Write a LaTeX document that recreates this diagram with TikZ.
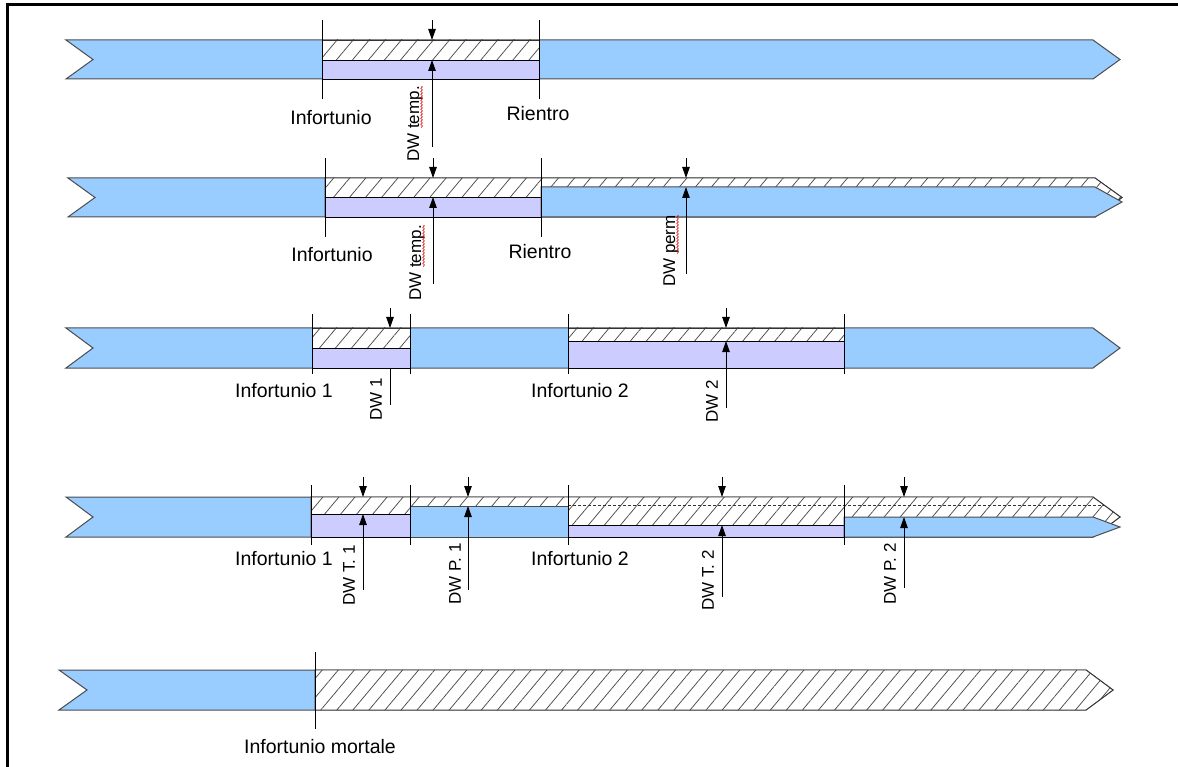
\documentclass[tikz,border=0pt]{standalone}
\usepackage{fontspec}
\setmainfont{Liberation Sans}
\usetikzlibrary{arrows.meta,patterns.meta,decorations.pathmorphing}

\definecolor{barblue}{HTML}{99CCFF}
\definecolor{barlilac}{HTML}{CCCCFF}
\definecolor{hatchgray}{gray}{0.3}

\tikzset{
  bar/.style={fill=barblue, draw=black!70, line width=1pt, line join=miter},
  hatch/.style={preaction={fill=white}, pattern={Lines[angle=50,distance=12.3pt,line width=0.75pt]},
    pattern color=hatchgray, draw=black!80, line width=0.9pt},
  lilac/.style={fill=barlilac, draw=black, line width=0.9pt},
  tick/.style={draw=black, line width=0.9pt},
  dwarrow/.style={draw=black, line width=0.9pt, -{Triangle[length=11pt,width=7.5pt]}},
  lbl/.style={font=\fontsize{19.5}{22}\selectfont, inner sep=0pt},
  vlbl/.style={font=\fontsize{17}{20}\selectfont, inner sep=0pt, rotate=90, anchor=east},
  squig/.style={draw=red!85!black, line width=0.5pt, decorate,
    decoration={snake, amplitude=0.9pt, segment length=3pt}},
  dashlevel/.style={draw=black!80, line width=0.7pt, dash pattern=on 3pt off 2pt},
}

% time bar with notched tail: style, x start, x notch, x end, x tip, y top, y bottom
\newcommand\timebar[7]{%
  \path[#1] (#2,#6) -- (#4,#6) -- (#5,{(#6+#7)/2}) -- (#4,#7) -- (#2,#7) -- (#3,{(#6+#7)/2}) -- cycle;}
% bar piece with a flat start: style, x start, x end, x tip, y top, y bottom
\newcommand\tailbar[6]{%
  \path[#1] (#2,#5) -- (#3,#5) -- (#4,{(#5+#6)/2}) -- (#3,#6) -- (#2,#6) -- cycle;}
% event mark: name, x, y top, y bottom
\newcommand\tickmark[4]{%
  \coordinate (#1-u) at (#2,#3); \coordinate (#1-d) at (#2,#4);
  \draw[tick] (#1-u) -- (#1-d);}
% damage arrows: name, x, y start above, y bar top, y level, y start below
\newcommand\dwmark[6]{%
  \coordinate (#1-t) at (#2,#3); \coordinate (#1-a) at (#2,#4);
  \coordinate (#1-b) at (#2,#5); \coordinate (#1-e) at (#2,#6);
  \draw[dwarrow] (#1-t) -- (#1-a);
  \draw[dwarrow] (#1-e) -- (#1-b);}

\begin{document}
\begin{tikzpicture}[x=1pt,y=-1pt]
\useasboundingbox (0,0) rectangle (1178,767);

% frame
\draw[line width=3pt] (1200,5) -- (7,5) -- (7,790);

% ---- row 1: temporary damage only
\timebar{bar}{66}{93}{1093}{1120}{40}{79}
\path[hatch] (322,40) rectangle (539,60);
\path[lilac] (322,60) rectangle (539,79);
\tickmark{r1i}{322}{20}{99}
\tickmark{r1r}{539}{20}{99}
\dwmark{r1dw}{432}{20}{40}{60}{147}
\node[lbl] (r1inf) at (331,118) {Infortunio};
\node[lbl] (r1rie) at (538,114) {Rientro};
\node[vlbl] (r1dwt) at (415,86) {DW temp.};
\path[squig] ([xshift=2.5pt]r1dwt.base east) -- ([xshift=2.5pt,yshift=-42pt]r1dwt.base east);

% ---- row 2: temporary plus permanent damage
\timebar{bar}{68}{95}{1095}{1122}{178}{217}
\tailbar{hatch}{325}{1095}{1122}{178}{217}
\path[lilac] (325,197) rectangle (541,217);
\tailbar{bar}{541}{1095}{1122}{187}{217}
\tickmark{r2i}{325}{158}{237}
\tickmark{r2r}{541}{158}{237}
\dwmark{r2dwt}{433}{158}{178}{197}{284}
\dwmark{r2dwp}{686}{158}{178}{187}{274}
\node[lbl] (r2inf) at (332,255) {Infortunio};
\node[lbl] (r2rie) at (540,252) {Rientro};
\node[vlbl] (r2dwtl) at (417,225) {DW temp.};
\path[squig] ([xshift=2.5pt]r2dwtl.base east) -- ([xshift=2.5pt,yshift=-42pt]r2dwtl.base east);
\node[vlbl] (r2dwpl) at (671,215) {DW perm};
\path[squig] ([xshift=2.5pt]r2dwpl.base east) -- ([xshift=2.5pt,yshift=-39pt]r2dwpl.base east);

% ---- row 3: two temporary injuries
\timebar{bar}{66}{93}{1093}{1120}{328}{368}
\path[hatch] (312,328) rectangle (410,348);
\path[lilac] (312,348) rectangle (410,368);
\path[hatch] (568,328) rectangle (844,341);
\path[lilac] (568,341) rectangle (844,368);
\tickmark{r3a}{312}{314}{374}
\tickmark{r3b}{410}{314}{374}
\tickmark{r3c}{568}{314}{374}
\tickmark{r3d}{844}{314}{374}
\coordinate (r3dw1-t) at (390,308); \coordinate (r3dw1-a) at (390,328);
\coordinate (r3dw1-b) at (390,368); \coordinate (r3dw1-e) at (390,405);
\draw[dwarrow] (r3dw1-t) -- (r3dw1-a);
\draw[tick] (r3dw1-b) -- (r3dw1-e);
\dwmark{r3dw2}{726}{308}{328}{341}{408}
\node[lbl] (r3inf1) at (284,391) {Infortunio 1};
\node[lbl] (r3inf2) at (580,391) {Infortunio 2};
\node[vlbl] (r3dw1l) at (376,378) {DW 1};
\node[vlbl] (r3dw2l) at (712,380) {DW 2};

% ---- row 4: two injuries with temporary and permanent parts
\timebar{bar}{66}{93}{1093}{1120}{497}{537}
\tailbar{hatch}{311}{1093}{1120}{497}{537}
\path[lilac] (311,514) rectangle (410,537);
\path[bar] (410,506) rectangle (568,537);
\path[lilac] (568,525) rectangle (844,537);
\tailbar{bar}{844}{1093}{1120}{517}{537}
\draw[dashlevel] (568,505) -- (1104,505);
\tickmark{r4a}{311}{485}{545}
\tickmark{r4b}{410}{485}{545}
\tickmark{r4c}{568}{485}{545}
\tickmark{r4d}{844}{485}{545}
\dwmark{r4t1}{363}{477}{497}{514}{590}
\dwmark{r4p1}{468}{477}{497}{506}{590}
\dwmark{r4t2}{722}{477}{497}{525}{597}
\dwmark{r4p2}{904}{477}{497}{517}{588}
\node[lbl] (r4inf1) at (284,559) {Infortunio 1};
\node[lbl] (r4inf2) at (580,559) {Infortunio 2};
\node[vlbl] (r4t1l) at (349,545) {DW T. 1};
\node[vlbl] (r4p1l) at (455,543) {DW P. 1};
\node[vlbl] (r4t2l) at (708,550) {DW T. 2};
\node[vlbl] (r4p2l) at (890,543) {DW P. 2};

% ---- row 5: fatal injury
\timebar{bar}{59}{87}{1086}{1113}{670}{710}
\tailbar{hatch}{315}{1086}{1113}{670}{710}
\tickmark{r5m}{315}{652}{729}
\node[lbl] (r5mor) at (320,747) {Infortunio mortale};
\end{tikzpicture}
\end{document}
